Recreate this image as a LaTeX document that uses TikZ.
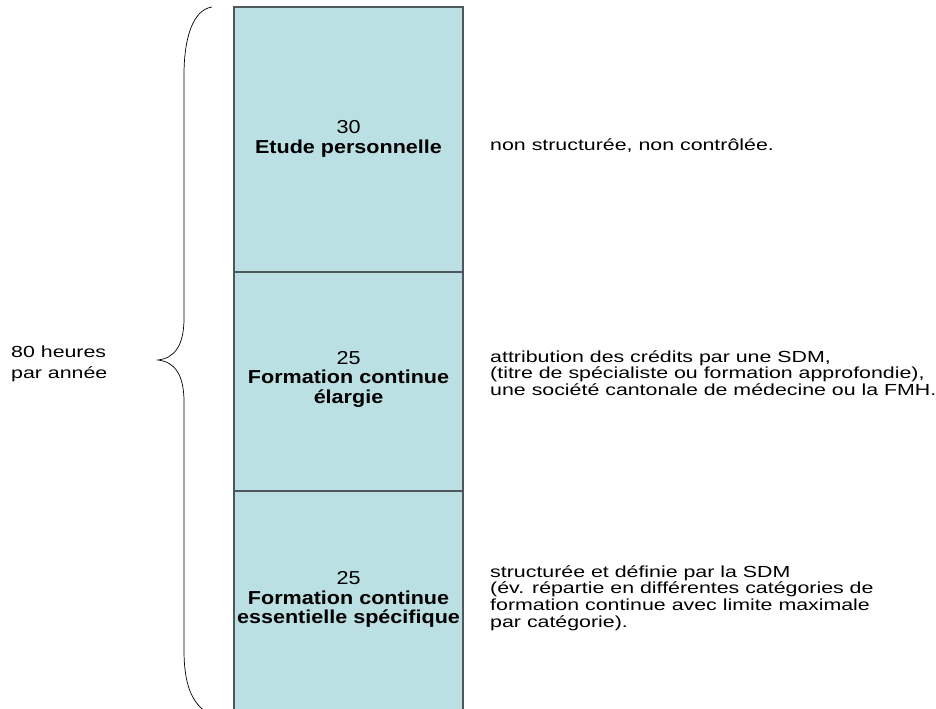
\documentclass[tikz,border=0pt]{standalone}
\usepackage{fontspec}
\setmainfont{Liberation Sans}
\usepackage{xcolor}
\usepackage{graphicx}
\usetikzlibrary{positioning}
\definecolor{boxcyan}{RGB}{187,224,227}
\definecolor{boxline}{RGB}{78,88,90}
\newcommand{\wide}[1]{\scalebox{1.33}[1]{#1}}
\newcommand{\widebf}[1]{\scalebox{1.15}[1]{\bfseries #1}}
\newcommand{\widenum}[1]{\scalebox{1.15}[1]{#1}}

\begin{document}
\begin{tikzpicture}[x=0.03cm,y=-0.03cm,
  plain/.style={inner sep=0pt,align=left,font=\fontsize{13.7}{14.3}\selectfont},
  bold/.style={inner sep=0pt,align=center,font=\fontsize{16}{16.6}\selectfont}]
\clip (0,0) rectangle (936,708);
\def\firstsection{(234,7) rectangle (463,272)}
\def\secondsection{(234,272) rectangle (463,491)}
\def\thirdsection{(234,491) rectangle (463,730)}
      \fill[boxcyan] \firstsection;
      \fill[boxcyan] \secondsection;
      \fill[boxcyan] \thirdsection;
      \draw[boxline,line width=0.9pt] \firstsection;
      \draw[boxline,line width=0.9pt] \secondsection;
      \draw[boxline,line width=0.9pt] \thirdsection;
      \node[bold] (etude) at (348.5,139) {\widenum{30}\\\widebf{Etude personnelle}};
      \node[bold] (elargie) at (348.5,379) {\widenum{25}\\\widebf{Formation continue}\\\widebf{élargie}};
      \node[bold] (essentielle) at (348.5,599.5) {\widenum{25}\\\widebf{Formation continue}\\\widebf{essentielle spécifique}};
      \node[plain,anchor=west] (etudetxt) at (490,146) {\wide{non structurée, non contrôlée.}};
      \node[plain,anchor=west] (elargietxt) at (490,373) {\wide{attribution des crédits par une SDM,}\\\wide{(titre de spécialiste ou formation approfondie),}\\\wide{une société cantonale de médecine ou la FMH.}};
      \node[plain,anchor=west] (essentielletxt) at (490,598) {\wide{structurée et définie par la SDM}\\\wide{(év. répartie en différentes catégories de}\\\wide{formation continue avec limite maximale}\\\wide{par catégorie).}};
      \node[plain,anchor=west,font=\fontsize{13.7}{17.5}\selectfont] (total) at (11,364) {\wide{80 heures}\\\wide{par année}};
      % accolade
      \draw[line width=0.6pt] (212,7) .. controls (192,10) and (184,40) .. (184,75) -- (184,318)
        .. controls (184,345) and (175,358) .. (158,360)
        .. controls (175,362) and (184,375) .. (184,402) -- (184,650)
        .. controls (184,685) and (192,702) .. (206,712);
\end{tikzpicture}
\end{document}
